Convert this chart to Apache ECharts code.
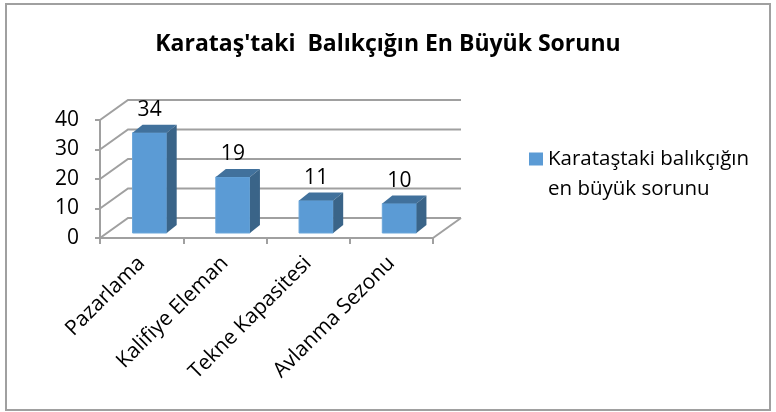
<!DOCTYPE html>
<html>
<head>
<meta charset="utf-8">
<script src="https://cdn.jsdelivr.net/npm/echarts@6/dist/echarts.min.js"></script>
<style>
html,body{margin:0;padding:0;background:#fff}
#main{width:776px;height:412px}
</style>
</head>
<body>
<div id="main"></div>
<script>
// veriler
var categories = ['Pazarlama', 'Kalifiye Eleman', 'Tekne Kapasitesi', 'Avlanma Sezonu'];
var values = [34, 19, 11, 10];
var yTicks = [0, 10, 20, 30, 40];
var seriesName = 'Karataştaki balıkçığın en büyük sorunu';
var titleText = "Karataş'taki  Balıkçığın En Büyük Sorunu";

var FONT = '"Open Sans", "DejaVu Sans", sans-serif';
var GRID_COLOR = '#a0a0a0';
// duvar derinligi (3B gorunum)
var DX = 28, DY = -20;

var myChart = echarts.init(document.getElementById('main'));

// arka duvar ve yan duvar cizgileri
function wallItem(params, api) {
    var cs = params.coordSys;
    var v = api.value(1);
    var y = api.coord([0, v])[1];
    var x0 = cs.x, x1 = cs.x + cs.width;
    var children = [{
        type: 'polyline',
        shape: {points: [[x0, y], [x0 + DX, y + DY], [x1 + DX, y + DY]]},
        style: {stroke: GRID_COLOR, lineWidth: 2, fill: null}
    }];
    if (v === 0) {
        children.push({
            type: 'line',
            shape: {x1: x1, y1: y, x2: x1 + DX, y2: y + DY},
            style: {stroke: GRID_COLOR, lineWidth: 2}
        });
    }
    return {type: 'group', children: children};
}

// 3B sutunlar
function barItem(params, api) {
    var i = api.value(0), v = api.value(1);
    var base = api.coord([i, 0]);
    var top = api.coord([i, v]);
    var w = api.size([1, 0])[0] * 0.41;
    var ox = 8, oy = -5;   // sutunun on yuzu biraz iceride
    var bx = 10, by = -8;  // sutun derinligi
    var xl = base[0] - w / 2 + ox, xr = xl + w;
    var yb = base[1] + oy, yt = top[1] + oy;
    return {
        type: 'group',
        children: [{
            type: 'rect',
            shape: {x: xl, y: yt, width: w, height: yb - yt},
            style: {fill: '#5b9bd5', stroke: '#6aa6da', lineWidth: 1}
        }, {
            type: 'polygon',
            shape: {points: [[xl, yt], [xl + bx, yt + by], [xr + bx, yt + by], [xr, yt]]},
            style: {fill: '#41719c'}
        }, {
            type: 'polygon',
            shape: {points: [[xr, yt], [xr + bx, yt + by], [xr + bx, yb + by], [xr, yb]]},
            style: {fill: '#3a6488'}
        }, {
            type: 'text',
            style: {
                x: (xl + xr) / 2, y: yt + by - 4,
                text: String(v),
                align: 'center', verticalAlign: 'bottom',
                fontSize: 21, fontFamily: FONT, fill: '#000'
            }
        }]
    };
}

var option = {
    animation: false,
    backgroundColor: '#fff',
    title: {
        text: titleText,
        left: 'center',
        top: 28,
        textStyle: {fontSize: 23, fontWeight: 'bold', fontFamily: FONT, color: '#000'}
    },
    legend: {
        data: [seriesName],
        left: 529,
        top: 114,
        padding: 0,
        icon: 'rect',
        itemWidth: 14,
        itemHeight: 13,
        formatter: function () {
            return '\nKarataştaki balıkçığın\nen büyük sorunu';
        },
        textStyle: {fontSize: 20.5, fontFamily: FONT, color: '#000', lineHeight: 30}
    },
    graphic: [{
        type: 'rect',
        shape: {x: 6, y: 4, width: 764, height: 406},
        style: {fill: null, stroke: GRID_COLOR, lineWidth: 2}
    }],
    grid: {left: 100, top: 120, width: 333, bottom: 174, containLabel: false},
    xAxis: {
        type: 'category',
        data: categories,
        axisLine: {lineStyle: {color: GRID_COLOR, width: 2}},
        axisTick: {show: true, length: 6, lineStyle: {color: GRID_COLOR, width: 2}},
        axisLabel: {rotate: 45, margin: 22, fontSize: 21, fontFamily: FONT, color: '#000', interval: 0}
    },
    yAxis: {
        type: 'value',
        min: 0,
        max: 40,
        interval: 10,
        axisLine: {show: true, lineStyle: {color: GRID_COLOR, width: 2}},
        axisTick: {show: true, length: 5, lineStyle: {color: GRID_COLOR, width: 2}},
        splitLine: {show: false},
        axisLabel: {margin: 21, fontSize: 21, fontFamily: FONT, color: '#000'}
    },
    series: [{
        type: 'custom',
        name: 'walls',
        renderItem: wallItem,
        data: yTicks.map(function (t) { return [0, t]; }),
        silent: true,
        z: 1
    }, {
        type: 'custom',
        name: seriesName,
        renderItem: barItem,
        itemStyle: {color: '#5b9bd5'},
        data: values.map(function (v, i) { return [i, v]; }),
        z: 2
    }]
};

myChart.setOption(option);
</script>
</body>
</html>
